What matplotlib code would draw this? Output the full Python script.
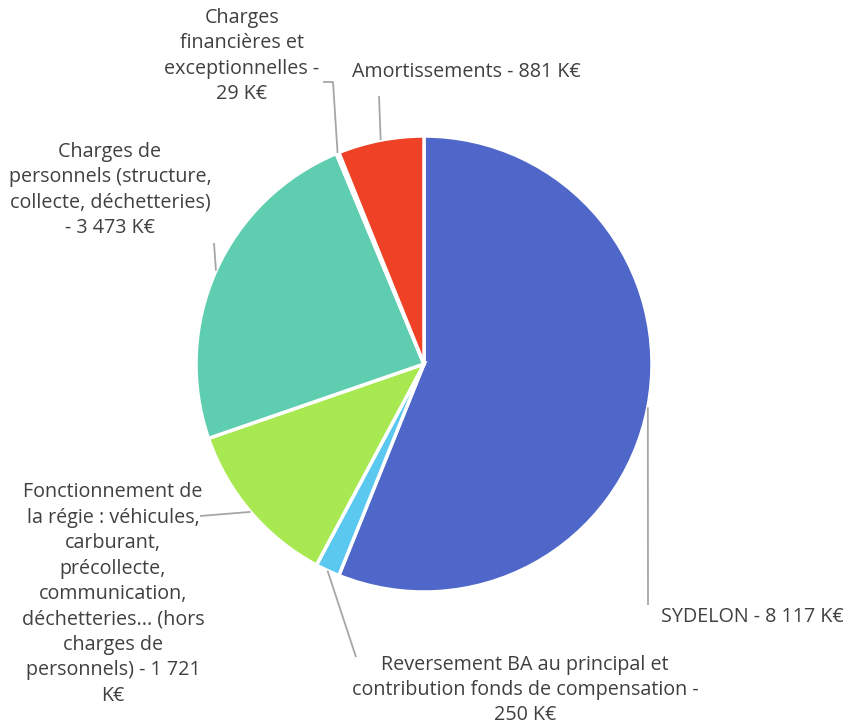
import numpy as np
import matplotlib
matplotlib.use("Agg")
import matplotlib.pyplot as plt

labels = [
    "SYDELON - 8 117 K€",
    "Reversement BA au principal et\ncontribution fonds de compensation -\n250 K€",
    "Fonctionnement de\nla régie : véhicules,\ncarburant,\nprécollecte,\ncommunication,\ndéchetteries... (hors\ncharges de\npersonnels) - 1 721\nK€",
    "Charges de\npersonnels (structure,\ncollecte, déchetteries)\n- 3 473 K€",
    "Charges\nfinancières et\nexceptionnelles -\n29 K€",
    "Amortissements - 881 K€",
]
values = [8117, 250, 1721, 3473, 29, 881]
colors = ["#4F67C8", "#5BC8F0", "#A8E850", "#5ECDB0", "#7F7F7F", "#EE4125"]

W, H = 852, 724
fig = plt.figure(figsize=(W / 100, H / 100), dpi=100)
ax = fig.add_axes([0, 0, 1, 1])

cx, cy, R = 424, H - 364, 228
wedges, _ = ax.pie(values, colors=colors, startangle=90, counterclock=False,
                   center=(cx, cy), radius=R, frame=True,
                   wedgeprops=dict(edgecolor="white", linewidth=2.5))
ax.set_xlim(0, W)
ax.set_ylim(0, H)
ax.set_aspect("equal")
ax.axis("off")

layout = [
    dict(path=[(648, 605)], text=(752, 617)),
    dict(path=[(356, 657)], text=(525, 690)),
    dict(path=[(200, 516)], text=(113, 594)),
    dict(path=[(214, 243)], text=(110, 190)),
    dict(path=[(333, 82), (323, 82)], text=(242, 56)),
    dict(path=[(379, 96)], text=(466, 72)),
]

txtcol = "#404040"
linecol = "#A6A6A6"
for w, lab, lay in zip(wedges, labels, layout):
    ang = np.deg2rad((w.theta1 + w.theta2) / 2)
    ax_pt = (cx + R * np.cos(ang), cy + R * np.sin(ang))
    pts = [ax_pt] + [(x, H - y) for x, y in lay["path"]]
    xs, ys = zip(*pts)
    ax.plot(xs, ys, color=linecol, lw=1.3, solid_capstyle="butt")
    tx, ty = lay["text"]
    ax.text(tx, H - ty, lab, ha="center", va="center", color=txtcol,
            fontsize=14.2, family="Open Sans", linespacing=1.36,
            multialignment="center")

fig.savefig("out.png", dpi=100, facecolor="white")
